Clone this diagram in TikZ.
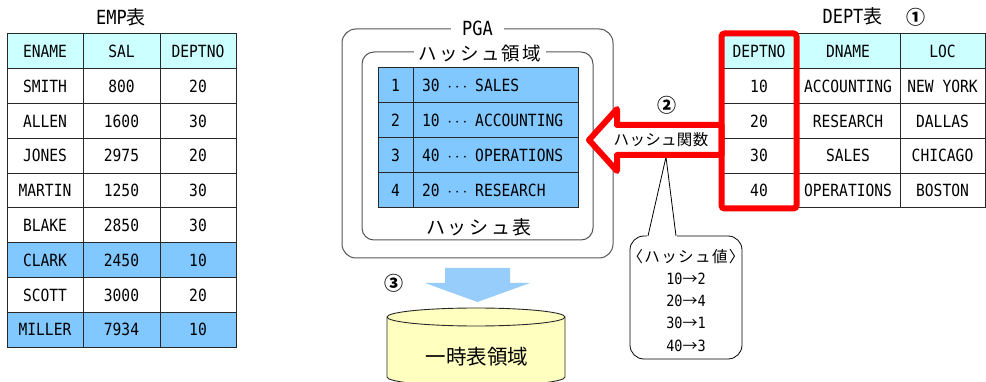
\documentclass[tikz,border=0pt]{standalone}
\usepackage{fontspec}
\newfontfamily\mono[FakeStretch=0.87]{DejaVu Sans Mono}
\newfontfamily\jp{Noto Sans CJK JP}
\newcommand\setfs[1]{\fontsize{#1}{#1}\selectfont}
\newcommand\hdots{\makebox[17.8pt]{$\cdots$}}
\definecolor{hdrc}{RGB}{204,255,255}
\definecolor{hlc}{RGB}{128,200,255}
\definecolor{gridc}{RGB}{40,40,40}
\definecolor{boxc}{RGB}{85,85,85}
\definecolor{arrowblue}{RGB}{150,205,250}
\definecolor{cylc}{RGB}{255,255,192}
\definecolor{redc}{RGB}{255,0,0}
\begin{document}
\begin{tikzpicture}[x=1pt,y=-1pt,
  cell/.style={draw=gridc, line width=1pt, inner sep=0pt, minimum height=34.8pt, font=\mono\setfs{16.8}},
  hcell/.style={draw=gridc, line width=1pt, inner sep=0pt, minimum height=35pt, font=\mono\setfs{16.8}, fill=hlc},
  title/.style={inner sep=0pt},
  areabox/.style={draw=boxc, line width=1pt, rounded corners=14pt, inner sep=0pt},
  arealabel/.style={fill=white, inner ysep=2pt},
  redbox/.style={draw=redc, line width=6pt, rounded corners=3pt},
  redarrow/.style={draw=redc, fill=white, line width=6pt, line join=round},
  circnum/.style={inner sep=0pt, font=\jp\bfseries\setfs{19}},
  callout/.style={draw=black, line width=0.8pt, fill=white}
]
\useasboundingbox (0,0) rectangle (986,382);

% ---------------- EMP table ----------------
\node[title] (emptitle) at (121,17) {{\mono\setfs{19.5}EMP}{\jp\setfs{19}表}};
\node[cell, fill=hdrc, minimum width=76pt] (emp-h1) at (45,51.4) {ENAME};
\node[cell, fill=hdrc, minimum width=77pt] (emp-h2) at (121.5,51.4) {SAL};
\node[cell, fill=hdrc, minimum width=76pt] (emp-h3) at (198,51.4) {DEPTNO};
\foreach \n/\s/\d/\c [count=\i] in {SMITH/800/20/white, ALLEN/1600/30/white, JONES/2975/20/white, MARTIN/1250/30/white, BLAKE/2850/30/white, CLARK/2450/10/hlc, SCOTT/3000/20/white, MILLER/7934/10/hlc}{
  \pgfmathsetmacro\yy{51.4+\i*34.8}
  \node[cell, fill=\c, minimum width=76pt] (emp-\i-1) at (45,\yy) {\n};
  \node[cell, fill=\c, minimum width=77pt] (emp-\i-2) at (121.5,\yy) {\s};
  \node[cell, fill=\c, minimum width=76pt] (emp-\i-3) at (198,\yy) {\d};
}

% ---------------- DEPT table ----------------
\node[title] (depttitle) at (852.5,16) {{\mono\setfs{19.5}DEPT}{\jp\setfs{19}表}};
\node[circnum] (n1) at (916,17) {①};
\node[cell, fill=hdrc, minimum width=74pt] (dept-h1) at (759,51.4) {DEPTNO};
\node[cell, fill=hdrc, minimum width=104pt] (dept-h2) at (848,51.4) {DNAME};
\node[cell, fill=hdrc, minimum width=85pt] (dept-h3) at (942.5,51.4) {LOC};
\foreach \a/\b/\c [count=\i] in {10/ACCOUNTING/NEW YORK, 20/RESEARCH/DALLAS, 30/SALES/CHICAGO, 40/OPERATIONS/BOSTON}{
  \pgfmathsetmacro\yy{51.4+\i*34.8}
  \node[cell, fill=white, minimum width=74pt] (dept-\i-1) at (759,\yy) {\a};
  \node[cell, fill=white, minimum width=104pt] (dept-\i-2) at (848,\yy) {\b};
  \node[cell, fill=white, minimum width=85pt] (dept-\i-3) at (942.5,\yy) {\c};
}

% ---------------- PGA ----------------
\node[areabox, minimum width=271pt, minimum height=229pt] (pga) at (477.5,143.5) {};
\node[arealabel, inner xsep=11pt, font=\mono\setfs{19.5}] (pgalabel) at (pga.north) {PGA};
\node[areabox, rounded corners=12pt, minimum width=231pt, minimum height=188pt] (hasharea) at (477.5,146) {};
\node[arealabel, inner xsep=5pt, font=\jp\setfs{18.5}\addfontfeature{LetterSpace=12}] (hashlabel) at (480,54) {ハッシュ領域};

% hash table
\foreach \k/\t [count=\i] in {1/{30\hspace{8.9pt}\hdots\hspace{8.9pt}SALES}, 2/{10\hspace{8.9pt}\hdots\hspace{8.9pt}ACCOUNTING}, 3/{40\hspace{8.9pt}\hdots\hspace{8.9pt}OPERATIONS}, 4/{20\hspace{8.9pt}\hdots\hspace{8.9pt}RESEARCH}}{
  \pgfmathsetmacro\yy{50.5+\i*35}
  \node[hcell, minimum width=35pt] (ht-\i-1) at (395.5,\yy) {\k};
  \node[hcell, minimum width=165pt, text width=147pt, inner xsep=9pt, align=left] (ht-\i-2) at (495.5,\yy) {\t};
}
\node[title, font=\jp\setfs{19}\addfontfeature{LetterSpace=14}] (hashtable) at (479,227) {ハッシュ表};

% ---------------- callout with hash values ----------------
\node[callout, rounded corners=14pt, minimum width=112pt, minimum height=123pt, inner sep=0pt] (hv) at (686,297.5) {};
\fill[white] (647,237.2) -- (666,157) -- (677,237.2) -- cycle;
\draw[line width=0.8pt] (648,236) -- (666,157) -- (676,236);
\node[title, font=\jp\setfs{15.5}\addfontfeature{LetterSpace=9}] (hvt) at (686,257) {〈ハッシュ値〉};
\node[title] (hv1) at (686,278.5) {{\mono\setfs{15.5}10}{\jp\setfs{15}→}{\mono\setfs{15.5}2}};
\node[title] (hv2) at (686,301) {{\mono\setfs{15.5}20}{\jp\setfs{15}→}{\mono\setfs{15.5}4}};
\node[title] (hv3) at (686,322.7) {{\mono\setfs{15.5}30}{\jp\setfs{15}→}{\mono\setfs{15.5}1}};
\node[title] (hv4) at (686,345.5) {{\mono\setfs{15.5}40}{\jp\setfs{15}→}{\mono\setfs{15.5}3}};

% ---------------- red hash-function arrow ----------------
\draw[redarrow] (dept-h1.west |- 0,125) -- (617,125) -- (617,109) -- (589,140) -- (617,171) -- (617,155) -- (dept-h1.west |- 0,155) -- cycle;
\node[title, font=\jp\setfs{15.5}\addfontfeature{LetterSpace=2}] (hfunc) at (661,140) {ハッシュ関数};
\node[circnum] (n2) at (667,105.5) {②};
\draw[redbox] (dept-h1.north west) rectangle (dept-4-1.south east);

% ---------------- blue arrow and temp area ----------------
\fill[arrowblue] (445,268) -- (510,268) -- (510,283) -- (530,283) -- (477.5,302) -- (425,283) -- (445,283) -- cycle;
\node[circnum] (n3) at (394,283.5) {③};
\draw[draw=gridc, line width=0.9pt, fill=cylc] (387,317) -- (387,377) arc[start angle=180, end angle=360, x radius=89pt, y radius=9pt] -- (565,317) arc[start angle=0, end angle=180, x radius=89pt, y radius=9pt] -- cycle;
\draw[draw=gridc, line width=0.9pt] (387,317) arc[start angle=180, end angle=360, x radius=89pt, y radius=9pt];
\node[title, font=\jp\setfs{20.5}] (tmp) at (477,357) {一時表領域};
\end{tikzpicture}
\end{document}
